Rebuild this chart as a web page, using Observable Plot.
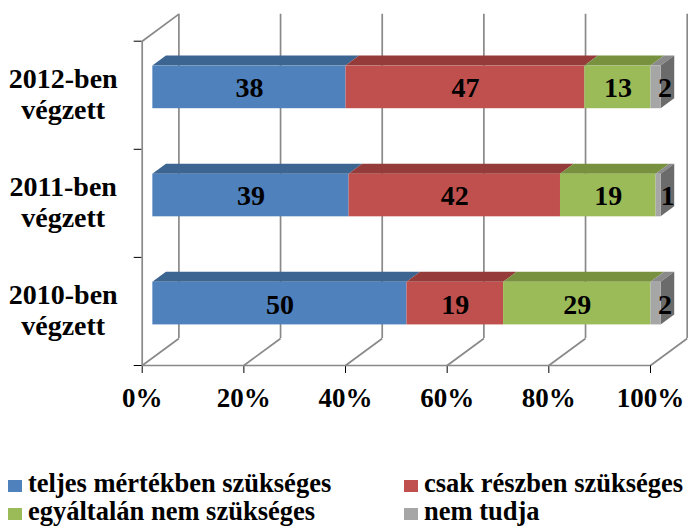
<!DOCTYPE html>
<html><head><meta charset="utf-8">
<script src="https://cdn.jsdelivr.net/npm/d3@7"></script>
<script src="https://cdn.jsdelivr.net/npm/@observablehq/plot@0.6"></script>
<style>
body{margin:0;background:#fff;width:688px;height:527px;position:relative;overflow:hidden;font-family:"Liberation Serif","Tinos","DejaVu Serif",serif;}
#chart{position:absolute;left:0;top:0;}
#legend{position:absolute;top:469px;left:0;width:688px;height:58px;font-weight:bold;font-size:26.5px;line-height:28px;color:#000;}
.item{position:absolute;white-space:nowrap;}
.sw{display:inline-block;width:14px;height:12px;margin-right:6px;vertical-align:0px;}
</style></head><body>
<div id="chart"></div><div id="legend"></div>
<script>
// ---- data ----
const categories = ["2010-ben\nvégzett", "2011-ben\nvégzett", "2012-ben\nvégzett"];
const series = ["teljes mértékben szükséges", "csak részben szükséges", "egyáltalán nem szükséges", "nem tudja"];
const teljes = [50, 39, 38];
const csak = [19, 42, 47];
const egyaltalan = [29, 19, 13];
const nemTudja = [2, 1, 2];
const xTicks = [0, 20, 40, 60, 80, 100];
const frontColors = ["#4F81BD", "#C0504D", "#9BBB59", "#A6A6A6"];
const topColors = ["#3D6592", "#953B39", "#77913F", "#8A8A8A"];
const sideColor = "#6B6B6B";
const gridColor = "#898989";
const FONT = "'Liberation Serif', 'Tinos', 'DejaVu Serif', serif";

// ---- oblique 3D projection expressed in data units ----
const DX = 7.22, DY = 0.25;      // full depth offset
const F0 = 0.29, F1 = 0.66;      // bar front / back depth fraction
const H = 0.197;                 // half bar height

const valueSets = [teljes, csak, egyaltalan, nemTudja];
const segments = [];
categories.forEach((c, i) => {
  const total = d3.sum(valueSets, v => v[i]);
  let acc = 0;
  valueSets.forEach((v, s) => {
    const a = acc / total * 100; acc += v[i]; const b = acc / total * 100;
    segments.push({cat: i, s, value: v[i], a, b});
  });
});
const yc = d => d.cat + 0.5;

const topPts = [];
segments.forEach((d, k) => {
  [d.a, d.b].forEach(xv => topPts.push({id: k, s: d.s,
    x1: xv + F0 * DX, y1: yc(d) + F0 * DY + H,
    x2: xv + F1 * DX, y2: yc(d) + F1 * DY + H}));
});
const sidePts = [];
segments.filter(d => d.s === series.length - 1).forEach((d, k) => {
  [-H, H].forEach(h => sidePts.push({id: k,
    x1: d.b + F0 * DX, y1: yc(d) + F0 * DY + h,
    x2: d.b + F1 * DX, y2: yc(d) + F1 * DY + h}));
});

const W = 688, HT = 432;
const plot = Plot.plot({
  width: W, height: HT,
  marginLeft: 141.7, marginRight: 38, marginTop: 40.7, marginBottom: HT - 365,
  style: {fontFamily: FONT, fontSize: "27px", fontWeight: "bold", background: "white", color: "black"},
  x: {domain: [0, 100], ticks: xTicks, tickFormat: d => d + "%", tickSize: 8, tickPadding: 14, label: null},
  y: {domain: [0, 3], ticks: [0, 1, 2, 3], tickFormat: () => "", tickSize: 8, label: null},
  color: {type: "identity"},
  marks: [
    Plot.ruleX(xTicks, {x: d => d + DX, y1: () => DY, y2: () => 3 + DY, stroke: gridColor, strokeWidth: 1.7}),
    Plot.link(xTicks, {x1: d => d, y1: () => 0, x2: d => d + DX, y2: () => DY, stroke: gridColor, strokeWidth: 1.7}),
    Plot.link([3], {x1: () => 0, y1: d => d, x2: () => DX, y2: d => d + DY, stroke: gridColor, strokeWidth: 1.7}),
    Plot.ruleX([0], {y1: () => 0, y2: () => 3, stroke: gridColor, strokeWidth: 1.7}),
    Plot.ruleY([0], {x1: () => 0, x2: () => 100, stroke: gridColor, strokeWidth: 1.7}),
    Plot.area(topPts, {x1: "x1", y1: "y1", x2: "x2", y2: "y2", z: "id", fill: d => topColors[d.s]}),
    Plot.area(sidePts, {x1: "x1", y1: "y1", x2: "x2", y2: "y2", z: "id", fill: () => sideColor}),
    Plot.rect(segments, {x1: d => d.a + F0 * DX, x2: d => d.b + F0 * DX,
      y1: d => yc(d) + F0 * DY - H, y2: d => yc(d) + F0 * DY + H, fill: d => frontColors[d.s]}),
    Plot.text(segments.filter(d => d.s < series.length - 1), {x: d => (d.a + d.b) / 2 + F0 * DX, y: d => yc(d) + F0 * DY,
      text: d => String(d.value), fontFamily: FONT, fontSize: 28, fontWeight: "bold", fill: "black", dy: 1}),
    Plot.text(segments.filter(d => d.s === series.length - 1), {x: d => (d.a + d.b) / 2 + F0 * DX, y: d => yc(d) + F0 * DY,
      text: d => String(d.value), fontFamily: FONT, fontSize: 28, fontWeight: "bold", fill: "black", dy: 1, dx: 9}),
    Plot.text(categories, {x: () => 0, y: (d, i) => i + 0.5, text: d => d, dx: -79, dy: -2,
      lineHeight: 1.12, fontFamily: FONT, fontSize: 28, fontWeight: "bold", fill: "black", textAnchor: "middle"})
  ]
});
document.getElementById("chart").appendChild(plot);

const legend = document.getElementById("legend");
const lpos = [[8, 0], [404, 0], [8, 28], [404, 28]];
series.forEach((s, i) => {
  const el = document.createElement("div");
  el.className = "item";
  el.style.left = lpos[i][0] + "px";
  el.style.top = lpos[i][1] + "px";
  el.innerHTML = `<span class="sw" style="background:${frontColors[i]}"></span>${s}`;
  legend.appendChild(el);
});
</script>
</body></html>
